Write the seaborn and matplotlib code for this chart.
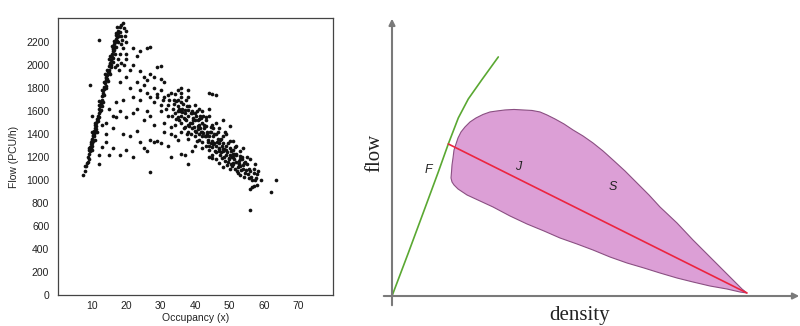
import pandas as pd
import matplotlib.pyplot as plt
import seaborn as sns

# observed points: occupancy (%) and flow (PCU/h)
# free-flow branch
ff_occ = [7.5, 8, 8.3, 8.5, 8.7, 9, 9, 9.2, 9.3, 9.5, 9.6, 9.8, 10, 10, 10.2, 10.3, 10.5, 10.6,
          10.8, 11, 11, 11.2, 11.3, 11.5, 11.6, 11.8, 12, 12, 12.2, 12.4, 12.5, 12.7, 12.9, 13,
          13.1, 13.3, 13.5, 13.6, 13.8, 14, 14, 14.2, 14.4, 14.5, 14.7, 14.8, 15, 15, 15.2, 15.4,
          15.5, 15.7, 15.8, 16, 16, 16.2, 16.4, 16.5, 16.7, 16.8, 17, 17.1, 17.3, 17.5, 17.6, 17.8,
          18, 18.2, 18.5, 19, 19.3, 18.8, 18.4, 18, 17.6, 17.2, 16.8, 19, 19.5, 19.8, 20, 20,
          19.2, 18.5, 17.8, 9.4, 9.9, 10.4, 11.4, 12.3, 13.2, 14.1, 15.1, 16.1, 17.4, 12, 9.5,
          9.1, 9.7, 10.1, 10.7, 11.1, 11.7, 12.1, 12.6, 13.1, 13.6, 14.1, 14.6, 15.1, 15.6, 16.1,
          16.6, 17.1, 17.7, 18.3, 10.9, 11.9, 12.8, 13.9, 14.9, 15.9, 16.9, 10.1, 12.1, 13.4,
          14.3, 15.3, 16.3, 17.3, 9.9, 11.4, 12.9, 8.9, 8.1]
ff_flow = [1040, 1080, 1120, 1150, 1200, 1180, 1230, 1260, 1290, 1250, 1310, 1330, 1300, 1360,
           1380, 1340, 1400, 1430, 1450, 1420, 1480, 1500, 1470, 1530, 1560, 1540, 1580, 1620,
           1600, 1650, 1680, 1660, 1700, 1730, 1760, 1740, 1790, 1810, 1840, 1820, 1870, 1890,
           1910, 1880, 1940, 1960, 1990, 1940, 2010, 2040, 2000, 2070, 2100, 2060, 2120, 2150,
           2130, 2180, 2200, 2160, 2230, 2260, 2210, 2280, 2300, 2250, 2330, 2290, 2350, 2370,
           2320, 2220, 2180, 2100, 2050, 2000, 1980, 2150, 2250, 2300, 2200, 2050, 2000, 2020,
           1960, 1280, 1350, 1390, 1510, 1640, 1780, 1900, 2020, 2140, 2240, 2220, 1830,
           1280, 1280, 1320, 1380, 1440, 1510, 1550, 1610, 1680, 1740, 1800, 1860, 1920, 1980,
           2030, 2100, 2160, 2200, 2250, 1500, 1650, 1780, 1920, 2050, 2170, 2280, 1420, 1690,
           1850, 1960, 2080, 2210, 2330, 1260, 1420, 1640, 1160, 1120]

# congested branch
cg_occ = [30, 31, 32, 32.5, 33, 33.5, 34, 34.5, 35, 35, 35.5, 36, 36.5, 36, 37, 37.5, 37, 38,
          38.5, 38, 39, 39.5, 39, 40, 40.5, 40, 41, 41.5, 41, 42, 42.5, 42, 43, 43.5, 43, 44,
          44.5, 44, 45, 45.5, 45, 46, 46.5, 46, 47, 47.5, 47, 48, 48.5, 48, 49, 49.5, 49, 50,
          50.5, 50, 51, 51.5, 51, 52, 52.5, 52, 53, 53.5, 53, 54, 54.5, 55, 55.5, 56, 56.5, 57,
          57.5, 58, 58, 59, 56, 55, 53, 51, 49, 47, 46, 44, 42, 40, 38, 36, 41, 43, 45, 48, 50,
          52, 54, 46, 44, 42, 40, 38, 36, 34, 32, 39, 38, 37, 35, 33, 31, 30, 29, 28, 47, 49, 51,
          53, 45, 43, 41, 39, 37, 35, 34, 38, 44, 46, 48, 50, 56, 62, 63.5, 56, 57,
          40.8, 42.2, 43.8, 45.2, 46.8, 48.2, 49.8, 51.2, 52.8, 54.2, 39.2, 41.6, 44.6, 47.6, 50.6,
          35.2, 35.8, 36.3, 36.8, 37.2, 37.8, 38.2, 38.7, 39.3, 39.8, 40.2, 40.7, 41.2, 41.7,
          42.3, 42.8, 43.2, 43.7, 44.2, 44.7, 45.3, 45.8, 46.3, 46.8, 47.3, 47.8, 48.3, 48.8,
          49.3, 49.8, 50.3, 50.8, 51.3, 51.8, 52.3, 52.8, 53.3, 53.8, 54.3, 54.8, 55.3, 56.2,
          57.2, 57.8, 36.1, 37.4, 38.1, 39.6, 40.3, 41.4, 42.6, 43.4, 44.1, 45.1, 46.1, 47.1,
          48.1, 49.1, 50.1, 51.1, 52.1, 53.1, 42.1, 41.9, 40.9, 39.9, 38.9, 37.9, 36.9, 35.9,
          34.9, 33.9, 33.2, 34.3, 36.7, 44.9, 46.6, 47.9, 49.6, 51.6, 53.6, 55.6, 57.4, 31.5,
          30.5, 32.2, 33.8, 35.4, 37.6, 40.6, 43.9, 45.6, 48.6, 50.9, 52.6, 54.6, 56.6, 58.4]
cg_flow = [1780, 1720, 1650, 1700, 1760, 1620, 1580, 1690, 1640, 1550, 1600, 1720, 1660, 1500,
           1580, 1640, 1460, 1560, 1500, 1420, 1600, 1540, 1450, 1520, 1600, 1380, 1480, 1560,
           1400, 1500, 1450, 1330, 1550, 1420, 1300, 1380, 1460, 1260, 1340, 1400, 1220, 1300,
           1360, 1180, 1280, 1240, 1150, 1320, 1200, 1110, 1260, 1160, 1300, 1220, 1140, 1280,
           1200, 1100, 1260, 1160, 1060, 1220, 1120, 1180, 1040, 1100, 1060, 1140, 1020, 1080,
           940, 1100, 1000, 1050, 960, 1000, 1180, 1200, 1250, 1340, 1400, 1450, 1500, 1560,
           1600, 1650, 1720, 1760, 1620, 1520, 1480, 1380, 1340, 1300, 1280, 1400, 1200, 1280,
           1300, 1360, 1420, 1480, 1560, 1250, 1140, 1220, 1350, 1400, 1500, 1600, 1720, 1680,
           1320, 1220, 1150, 1180, 1290, 1380, 1350, 1500, 1530, 1700, 1750, 1780, 1760, 1740,
           1520, 1470, 740, 900, 1000, 920, 950,
           1440, 1410, 1330, 1310, 1250, 1270, 1180, 1230, 1140, 1150, 1580, 1540, 1420, 1360, 1200,
           1620, 1680, 1590, 1540, 1700, 1610, 1470, 1580, 1520, 1430, 1560, 1470, 1530, 1420,
           1560, 1380, 1470, 1350, 1420, 1320, 1380, 1250, 1330, 1270, 1350, 1190, 1270, 1170,
           1240, 1190, 1250, 1120, 1180, 1230, 1110, 1170, 1090, 1130, 1030, 1090, 1050, 1030,
           1060, 1020, 1620, 1520, 1640, 1460, 1420, 1450, 1480, 1400, 1300, 1450, 1240, 1220,
           1250, 1130, 1100, 1140, 1080, 1210, 1420, 1380, 1520, 1580, 1400, 1480, 1610, 1560,
           1600, 1660, 1560, 1530, 1450, 1190, 1420, 1300, 1320, 1290, 1200, 1100, 1140, 1620,
           1700, 1740, 1700, 1520, 1400, 1340, 1620, 1320, 1420, 1230, 1140, 1160, 1000, 1080]

# scattered points between the branches
sp_occ = [12, 12, 13, 14, 15, 16, 14, 16, 18, 19, 20, 22, 23, 24, 25, 26, 27, 28, 29, 30, 33,
          21, 17, 18, 19, 20, 22, 23, 25, 26, 27, 28, 24, 21, 22, 23, 24, 25, 26, 27, 28, 29, 30,
          31, 20, 21, 22, 24, 25, 26, 27, 28, 23, 22, 24, 26, 27, 30, 29, 35, 36, 45, 20, 18, 17,
          16, 15, 14, 13, 33, 31, 34, 36, 27, 30, 32, 11, 10]
sp_flow = [1140, 1220, 1290, 1330, 1220, 1280, 1400, 1450, 1220, 1400, 1260, 1200, 1430, 1330,
           1280, 1250, 1350, 1330, 1340, 1320, 1200, 1380, 1550, 1600, 1700, 1550, 1580, 1620,
           1520, 1600, 1560, 1480, 1700, 1800, 1720, 1850, 1780, 1830, 1760, 1720, 1800, 1750,
           1880, 1850, 1900, 1960, 2000, 1950, 1900, 1870, 1920, 1900, 2080, 2150, 2120, 2150,
           2160, 1990, 1980, 1780, 1800, 1750, 2100, 1850, 1680, 1560, 1620, 1500, 1480, 1460,
           1420, 1380, 1230, 1070, 1650, 1300, 1350, 1560]

y_ticks = list(range(0, 2201, 200))
x_ticks = [10, 20, 30, 40, 50, 60, 70]

# schematic (right panel), arbitrary units
free_x = [0, 16.3, 33, 46.3, 56.3, 66.3, 76.3, 89.7, 106.3]
free_y = [0, 43, 88, 124, 152, 178, 197, 216, 239]
jam_x = [56.3, 355]
jam_y = [152, 3]
region_x = [355, 350, 345, 338, 328, 315, 301, 285, 268, 257, 245, 233, 221, 211, 201, 191,
            181, 172, 163, 155, 148, 140, 131, 122, 113, 105, 98, 91, 84, 78, 73, 69, 66, 64,
            62, 61, 60, 59.5, 59, 60, 62, 66, 75, 88, 101, 118, 135, 152, 168, 185, 201, 218,
            235, 252, 268, 285, 301, 318, 335, 348]
region_y = [3, 7, 12, 19, 29, 42, 56, 73, 89, 101, 113, 125, 136, 145, 153, 160, 166, 172,
            177, 181, 184, 185.5, 186, 186.5, 186, 185, 184, 181.5, 178, 174, 169, 164, 158,
            152, 146, 138, 131, 124, 118, 114, 111, 107, 101, 95, 89, 80, 72, 65, 58, 52, 46,
            39, 33, 28, 23, 18, 14, 10, 7, 4]

sns.set_style("white")
plt.rcParams["font.family"] = ["Liberation Sans", "DejaVu Sans"]

fig = plt.figure(figsize=(8, 3.26), dpi=100)

# left: scatter
ax1 = fig.add_axes([0.072, 0.095, 0.344, 0.850])
pts = pd.DataFrame({
    "occ": ff_occ + cg_occ + sp_occ,
    "flow": ff_flow + cg_flow + sp_flow,
})
sns.scatterplot(data=pts, x="occ", y="flow", ax=ax1, s=7, color="#111111", linewidth=0)
ax1.set_xlim(0, 80)
ax1.set_ylim(0, 2410)
ax1.set_xticks(x_ticks)
ax1.set_yticks(y_ticks)
ax1.tick_params(axis="x", direction="in", length=3, width=0.7, labelsize=7.5,
                colors="#222222", pad=4)
ax1.tick_params(axis="y", direction="out", length=3, width=0.7, labelsize=7.5,
                colors="#222222", pad=3)
for sp in ax1.spines.values():
    sp.set_color("#444444")
    sp.set_linewidth(0.9)
ax1.set_xlabel("Occupancy (x)", fontsize=7.5, color="#222222", labelpad=2)
ax1.set_ylabel("Flow (PCU/h)", fontsize=7.5, color="#222222", labelpad=5)

# right: schematic
ax2 = fig.add_axes([0.49, 0.092, 0.51, 0.853])
ax2.set_xlim(0, 408)
ax2.set_ylim(0, 278)
ax2.axis("off")
ax2.fill(region_x, region_y, facecolor="#dc9fd6", edgecolor="#8a4f82", linewidth=0.8)
sns.lineplot(x=free_x, y=free_y, ax=ax2, sort=False, color="#5aa832", linewidth=1.2)
sns.lineplot(x=jam_x, y=jam_y, ax=ax2, sort=False, color="#ec2440", linewidth=1.2)
arrow = dict(arrowstyle="-|>", color="#7a7a7a", lw=1.5, mutation_scale=9)
ax2.annotate("", xy=(0, 280), xytext=(0, -12), arrowprops=arrow, annotation_clip=False)
ax2.annotate("", xy=(410, 0), xytext=(-11, 0), arrowprops=arrow, annotation_clip=False)
ax2.text(-17, 143, "flow", rotation=90, ha="center", va="center", fontsize=15,
         family="Liberation Serif", color="#222222")
ax2.text(188, -19, "density", ha="center", va="center", fontsize=15,
         family="Liberation Serif", color="#222222", clip_on=False)
ax2.text(36, 126, "F", ha="center", va="center", fontsize=9, style="italic", color="#222222")
ax2.text(126, 129, "J", ha="center", va="center", fontsize=9, style="italic", color="#222222")
ax2.text(221, 109, "S", ha="center", va="center", fontsize=9, style="italic", color="#222222")

plt.savefig("out.png", dpi=100)
